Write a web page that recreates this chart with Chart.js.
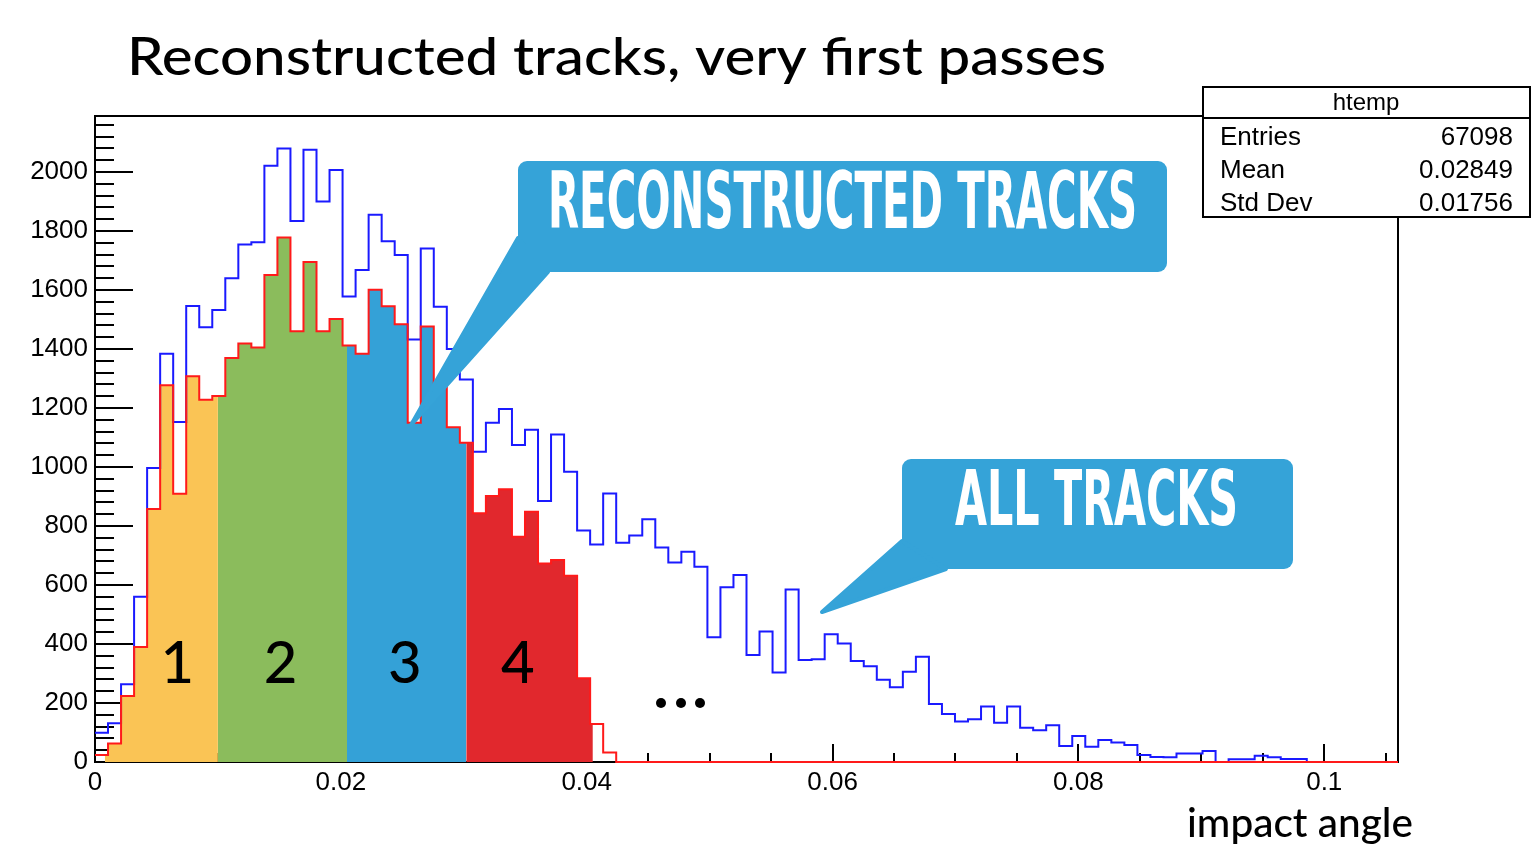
<!DOCTYPE html>
<html>
<head>
<meta charset="utf-8">
<title>Reconstructed tracks, very first passes</title>
<script src="https://cdn.jsdelivr.net/npm/chart.js@4.4.1/dist/chart.umd.min.js"></script>
<style>
  html, body { margin: 0; padding: 0; background: #fff; }
  #wrap { position: relative; width: 1536px; height: 865px; }
</style>
</head>
<body>
<div id="wrap"><canvas id="hist" width="1536" height="865"></canvas></div>
<script>
// impact angle histogram: 100 bins between 0 and xMax
const xMax = 0.106;
const yMax = 2190;
const nBins = 100;

// labelled ticks on both axes
const xTickValues = [0, 0.02, 0.04, 0.06, 0.08, 0.1];
const yTickValues = [0, 200, 400, 600, 800, 1000, 1200, 1400, 1600, 1800, 2000];

// all tracks (blue outline)
const allTracks = [
   99,  131,  264,  560,  997, 1384, 1153, 1546, 1474, 1532,
 1640, 1754, 1762, 2021, 2080, 1834, 2076, 1900, 2007, 1578,
 1668, 1855, 1765, 1719, 1432, 1741, 1543, 1400, 1297, 1052,
 1150, 1197, 1075, 1126,  885, 1110,  984,  785,  737,  910,
  743,  768,  823,  727,  676,  713,  662,  423,  592,  634,
  363,  442,  303,  585,  346,  348,  433,  402,  342,  325,
  279,  253,  306,  357,  197,  163,  137,  145,  188,  133,
  188,  116,  108,  125,   54,   88,   52,   75,   66,   58,
   24,   17,   16,   29,   29,   37,    0,    9,    9,   21,
   16,   10,   10,    0,    0,    0,    0,    0,    0,    0
];

// reconstructed tracks (red outline)
const recoTracks = [
   24,   63,  224,  390,  858, 1277,  909, 1308, 1228, 1241,
 1370, 1419, 1405, 1651, 1778, 1460, 1695, 1460, 1502, 1412,
 1384, 1601, 1545, 1484, 1150, 1476, 1280, 1135, 1082,  843,
  902,  925,  764,  848,  673,  685,  631,  284,  129,   32,
    0,    0,    0,    0,    0,    0,    0,    0,    0,    0,
    0,    0,    0,    0,    0,    0,    0,    0,    0,    0,
    0,    0,    0,    0,    0,    0,    0,    0,    0,    0,
    0,    0,    0,    0,    0,    0,    0,    0,    0,    0,
    0,    0,    0,    0,    0,    0,    0,    0,    0,    0,
    0,    0,    0,    0,    0,    0,    0,    0,    0,    0
];

// passes: angle ranges, fill colours and their labels
const passEdges = [0.0008, 0.0100, 0.0205, 0.0302, 0.0405];
const passColors = ['#fac455', '#8bbc5c', '#34a1d7', '#e1282d'];
const passLabels = ['1', '2', '3', '4'];
const passLabelX = [0.0067, 0.0151, 0.0252, 0.0344];
const passLabelY = 330;

const statsRows = [['Entries', '67098'], ['Mean', '0.02849'], ['Std Dev', '0.01756']];

const binWidth = xMax / nBins;
const sans = "'Liberation Sans', Arial, Helvetica, sans-serif";
const round = "Lato, 'Open Sans', sans-serif";
const narrow = "'Liberation Sans Narrow', 'DejaVu Sans Condensed', 'Liberation Sans', sans-serif";

// one point per bin low edge, plus the upper edge of the last bin
function histPoints(counts) {
    const pts = counts.map((c, i) => ({ x: i * binWidth, y: c }));
    pts.push({ x: nBins * binWidth, y: counts[counts.length - 1] });
    return pts;
}

// same step shape, cut to [lo, hi]
function passPoints(counts, lo, hi) {
    const pts = [];
    counts.forEach((c, i) => {
        const a = i * binWidth, b = a + binWidth;
        if (b <= lo || a >= hi) return;
        pts.push({ x: Math.max(a, lo), y: c });
    });
    pts.push({ x: hi, y: pts[pts.length - 1].y });
    return pts;
}

const passSets = passColors.map((col, p) => ({
    data: passPoints(recoTracks, passEdges[p], passEdges[p + 1]),
    stepped: true,
    fill: 'origin',
    backgroundColor: col,
    borderColor: 'rgba(0,0,0,0)',
    borderWidth: 1,
    pointRadius: 0,
    order: 3
}));

function roundRect(ctx, x, y, w, h, r) {
    ctx.beginPath();
    ctx.moveTo(x + r, y);
    ctx.arcTo(x + w, y, x + w, y + h, r);
    ctx.arcTo(x + w, y + h, x, y + h, r);
    ctx.arcTo(x, y + h, x, y, r);
    ctx.arcTo(x, y, x + w, y, r);
    ctx.closePath();
}

// text stretched or squeezed to an exact width
function fitText(ctx, text, x, y, w) {
    const nat = ctx.measureText(text).width;
    ctx.save();
    ctx.translate(x, y);
    ctx.scale(w / nat, 1);
    ctx.fillText(text, 0, 0);
    ctx.restore();
}

// blue speech bubble with white condensed caption
function callout(ctx, box, ptr, text, txt) {
    ctx.save();
    ctx.fillStyle = '#35a3d8';
    roundRect(ctx, box[0], box[1], box[2], box[3], 9);
    ctx.fill();
    ctx.beginPath();
    ctx.moveTo(ptr[0][0], ptr[0][1]);
    ctx.lineTo(ptr[1][0], ptr[1][1]);
    ctx.lineTo(ptr[2][0], ptr[2][1]);
    ctx.closePath();
    ctx.lineJoin = 'round';
    ctx.strokeStyle = '#35a3d8';
    ctx.lineWidth = 4;
    ctx.fill();
    ctx.stroke();
    ctx.fillStyle = '#fff';
    ctx.font = `bold ${txt.size}px ${narrow}`;
    ctx.textBaseline = 'alphabetic';
    ctx.textAlign = 'left';
    fitText(ctx, text, txt.x, txt.y, txt.w);
    ctx.restore();
}

const decor = {
    id: 'decor',
    beforeDatasetsDraw(chart) {
        const { ctx, chartArea: a, scales: { x, y } } = chart;
        ctx.save();
        ctx.strokeStyle = '#000';
        ctx.lineWidth = 2;
        ctx.beginPath();
        for (let i = 0; i * 0.005 <= xMax; i++) {
            const px = Math.round(x.getPixelForValue(i * 0.005));
            const len = i % 4 === 0 ? 18 : 9;
            ctx.moveTo(px, a.bottom);
            ctx.lineTo(px, a.bottom - len);
        }
        for (let i = 0; i * 40 <= yMax; i++) {
            const py = Math.round(y.getPixelForValue(i * 40));
            const len = i % 5 === 0 ? 38 : 19;
            ctx.moveTo(a.left, py);
            ctx.lineTo(a.left + len, py);
        }
        ctx.stroke();
        ctx.strokeRect(a.left, a.top, a.right - a.left, a.bottom - a.top);
        ctx.restore();
    },
    afterDraw(chart) {
        const { ctx, scales: { x, y } } = chart;
        ctx.save();

        // title and axis title
        ctx.fillStyle = '#000';
        ctx.textBaseline = 'alphabetic';
        ctx.textAlign = 'left';
        ctx.font = `500 53px ${round}`;
        fitText(ctx, 'Reconstructed tracks, very first passes', 127, 75, 979);
        ctx.font = `500 40px ${round}`;
        fitText(ctx, 'impact angle', 1187, 837, 226);

        // pass numbers
        ctx.font = `500 58px ${round}`;
        ctx.textAlign = 'center';
        ctx.textBaseline = 'middle';
        passLabels.forEach((t, i) => {
            ctx.fillText(t, x.getPixelForValue(passLabelX[i]), y.getPixelForValue(passLabelY));
        });

        // "..." for the later passes
        [661, 681, 700].forEach(cx => {
            ctx.beginPath();
            ctx.arc(cx, 703, 5, 0, Math.PI * 2);
            ctx.fill();
        });

        callout(ctx, [518, 161, 649, 111], [[518, 238], [548, 272], [411, 425]],
            'RECONSTRUCTED TRACKS', { x: 548, y: 228, w: 589, size: 78 });
        callout(ctx, [902, 459, 391, 110], [[902, 541], [946, 569], [822, 612]],
            'ALL TRACKS', { x: 955, y: 525, w: 283, size: 76 });

        // stats box
        ctx.fillStyle = '#fff';
        ctx.fillRect(1203, 87, 327, 130);
        ctx.strokeStyle = '#000';
        ctx.lineWidth = 2;
        ctx.strokeRect(1203, 87, 327, 130);
        ctx.beginPath();
        ctx.moveTo(1203, 118);
        ctx.lineTo(1530, 118);
        ctx.stroke();
        ctx.fillStyle = '#000';
        ctx.textBaseline = 'middle';
        ctx.font = `24px ${sans}`;
        ctx.textAlign = 'center';
        ctx.fillText('htemp', 1366, 103);
        ctx.font = `26px ${sans}`;
        statsRows.forEach((r, i) => {
            const ry = 138 + i * 33;
            ctx.textAlign = 'left';
            ctx.fillText(r[0], 1220, ry);
            ctx.textAlign = 'right';
            ctx.fillText(r[1], 1513, ry);
        });
        ctx.restore();
    }
};

const ctx = document.getElementById('hist').getContext('2d');
new Chart(ctx, {
    type: 'line',
    data: {
        datasets: [
            ...passSets,
            { data: histPoints(allTracks), stepped: true, borderColor: '#1a1aff', borderWidth: 2, pointRadius: 0, fill: false, clip: 4, order: 2 },
            { data: histPoints(recoTracks), stepped: true, borderColor: '#ff1a1a', borderWidth: 2, pointRadius: 0, fill: false, clip: 4, order: 1 }
        ]
    },
    options: {
        responsive: false,
        animation: false,
        events: [],
        layout: { padding: { top: 116, right: 138, left: 0, bottom: 0 } },
        plugins: { legend: { display: false }, tooltip: { enabled: false } },
        scales: {
            x: {
                type: 'linear', min: 0, max: xMax,
                afterFit: s => { s.height = 103; },
                afterBuildTicks: s => { s.ticks = xTickValues.map(v => ({ value: v })); },
                grid: { display: false, drawTicks: false },
                border: { display: false },
                ticks: {
                    padding: 5, maxRotation: 0, autoSkip: false,
                    color: '#000', font: { family: sans, size: 26 },
                    callback: v => String(+v.toFixed(3))
                }
            },
            y: {
                min: 0, max: yMax,
                afterFit: s => { s.width = 95; },
                afterBuildTicks: s => { s.ticks = yTickValues.map(v => ({ value: v })); },
                grid: { display: false, drawTicks: false },
                border: { display: false },
                ticks: {
                    padding: 7, autoSkip: false,
                    color: '#000', font: { family: sans, size: 26 },
                    callback: v => String(v)
                }
            }
        }
    },
    plugins: [decor]
});
</script>
</body>
</html>
